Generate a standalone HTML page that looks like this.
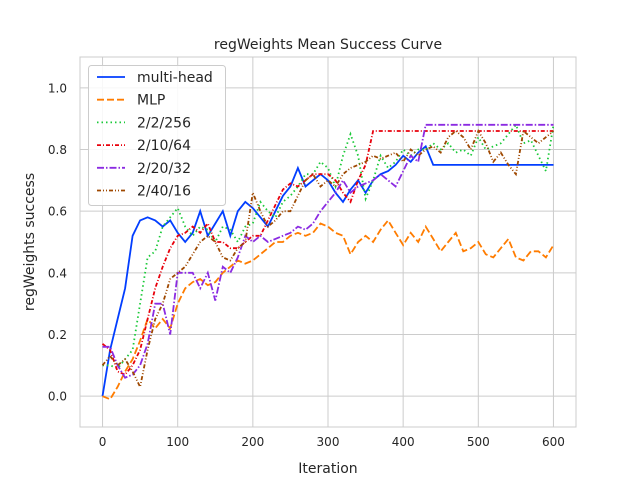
<!DOCTYPE html>
<html><head><meta charset="utf-8"><style>
body{margin:0;background:#fff;}
svg text{font-family:"DejaVu Sans","Liberation Sans",sans-serif;fill:#262626;}
</style></head><body>
<svg id="chart" width="640" height="480" xmlns="http://www.w3.org/2000/svg">
<rect x="80" y="57" width="496" height="370" fill="#fff" stroke="#ccc" stroke-width="1"/>
<g id="grid"></g>
<g id="series"></g>
<g id="ticks"></g>
<text x="328" y="49" text-anchor="middle" font-size="14">regWeights Mean Success Curve</text>
<text x="328" y="473" text-anchor="middle" font-size="14">Iteration</text>
<text x="34" y="242" text-anchor="middle" font-size="14" transform="rotate(-90 34 242)">regWeights success</text>
<g id="legend">
<rect x="88.5" y="65.5" width="137" height="140" rx="3" fill="#fff" fill-opacity="0.85" stroke="#ccc"/>
</g>
</svg>
<script>
const iters=[0,10,20,30,40,50,60,70,80,90,100,110,120,130,140,150,160,170,180,190,200,210,220,230,240,250,260,270,280,290,300,310,320,330,340,350,360,370,380,390,400,410,420,430,440,450,460,470,480,490,500,510,520,530,540,550,560,570,580,590,600];
const multiHead=[0.0,0.15,0.25,0.35,0.52,0.57,0.58,0.57,0.55,0.57,0.53,0.50,0.53,0.60,0.52,0.56,0.60,0.52,0.60,0.63,0.61,0.58,0.55,0.60,0.65,0.68,0.74,0.68,0.70,0.72,0.70,0.66,0.63,0.67,0.70,0.66,0.70,0.72,0.73,0.75,0.78,0.76,0.79,0.81,0.75,0.75,0.75,0.75,0.75,0.75,0.75,0.75,0.75,0.75,0.75,0.75,0.75,0.75,0.75,0.75,0.75];
const mlp=[0.0,-0.01,0.03,0.08,0.12,0.18,0.25,0.22,0.25,0.22,0.30,0.35,0.37,0.38,0.36,0.37,0.40,0.42,0.44,0.43,0.44,0.46,0.48,0.50,0.50,0.52,0.53,0.52,0.53,0.56,0.55,0.53,0.52,0.46,0.50,0.52,0.50,0.54,0.57,0.53,0.49,0.53,0.50,0.55,0.51,0.47,0.50,0.53,0.47,0.48,0.50,0.46,0.45,0.48,0.51,0.45,0.44,0.47,0.47,0.45,0.49];
const s2_2_256=[0.10,0.10,0.09,0.12,0.15,0.30,0.45,0.47,0.55,0.58,0.61,0.55,0.52,0.55,0.54,0.50,0.55,0.54,0.50,0.55,0.56,0.63,0.60,0.58,0.63,0.65,0.68,0.72,0.72,0.76,0.74,0.68,0.78,0.85,0.78,0.64,0.70,0.78,0.74,0.76,0.80,0.78,0.80,0.80,0.82,0.80,0.82,0.79,0.80,0.78,0.84,0.80,0.81,0.82,0.85,0.88,0.82,0.83,0.78,0.73,0.88];
const s2_10_64=[0.17,0.15,0.08,0.07,0.10,0.15,0.25,0.35,0.42,0.48,0.52,0.53,0.55,0.53,0.56,0.50,0.50,0.48,0.48,0.50,0.52,0.52,0.57,0.62,0.67,0.69,0.68,0.70,0.72,0.72,0.72,0.70,0.66,0.63,0.70,0.75,0.86,0.86,0.86,0.86,0.86,0.86,0.86,0.86,0.86,0.86,0.86,0.86,0.86,0.86,0.86,0.86,0.86,0.86,0.86,0.86,0.86,0.86,0.86,0.86,0.86];
const s2_20_32=[0.16,0.16,0.10,0.06,0.07,0.10,0.17,0.30,0.30,0.20,0.40,0.40,0.40,0.35,0.40,0.31,0.42,0.40,0.45,0.52,0.50,0.52,0.50,0.51,0.52,0.53,0.55,0.54,0.56,0.60,0.63,0.66,0.70,0.66,0.68,0.69,0.70,0.72,0.70,0.68,0.73,0.78,0.76,0.88,0.88,0.88,0.88,0.88,0.88,0.88,0.88,0.88,0.88,0.88,0.88,0.88,0.88,0.88,0.88,0.88,0.88];
const s2_40_16=[0.10,0.13,0.10,0.12,0.08,0.03,0.15,0.25,0.30,0.38,0.40,0.42,0.46,0.50,0.52,0.50,0.45,0.44,0.48,0.50,0.66,0.60,0.55,0.57,0.60,0.60,0.65,0.70,0.72,0.68,0.70,0.68,0.72,0.74,0.75,0.76,0.78,0.77,0.78,0.79,0.76,0.80,0.78,0.80,0.81,0.79,0.84,0.86,0.84,0.80,0.86,0.82,0.76,0.79,0.75,0.72,0.86,0.84,0.82,0.84,0.86];
const seriesNames=["multi-head","MLP","2/2/256","2/10/64","2/20/32","2/40/16"];
const xTicks=[0,100,200,300,400,500,600];
const yTicks=[0.0,0.2,0.4,0.6,0.8,1.0];

const data=[multiHead,mlp,s2_2_256,s2_10_64,s2_20_32,s2_40_16];
const colors=["#023eff","#ff7c00","#1ac938","#e8000b","#8b2be2","#9f4800"];
const dashes=["","7,3","1.5,3","4,2,1,2","7,2,1.5,2","4,2,1,2,1,2"];
const X=v=>80+(v+30)/660*496;
const Y=v=>427-(v+0.1)/1.2*370;
const NS="http://www.w3.org/2000/svg";
const grid=document.getElementById('grid'),ticks=document.getElementById('ticks'),ser=document.getElementById('series'),leg=document.getElementById('legend');
function mk(tag,attrs,parent){const e=document.createElementNS(NS,tag);for(const k in attrs)e.setAttribute(k,attrs[k]);parent.appendChild(e);return e;}
xTicks.forEach(t=>{
  const l=mk('line',{x1:X(t),x2:X(t),y1:57,y2:427,stroke:'#ccc','stroke-width':1},grid);
  
  
  const tx=mk('text',{x:X(t),y:446,'text-anchor':'middle','font-size':12},ticks);
  tx.textContent=t;
  
  
});
yTicks.forEach(t=>{
  const l=mk('line',{x1:80,x2:576,y1:Y(t),y2:Y(t),stroke:'#ccc','stroke-width':1},grid);
  
  
  const tx=mk('text',{x:67,y:Y(t)+4.5,'text-anchor':'end','font-size':12},ticks);
  tx.textContent=t.toFixed(1);
  
  
});
data.forEach((d,i)=>{
  const pts=d.map((v,j)=>X(iters[j]).toFixed(1)+','+Y(v).toFixed(1)).join(' ');
  const p=mk('polyline',{points:pts,fill:'none',stroke:colors[i],'stroke-width':1.8},ser);
  if(dashes[i])p.setAttribute('stroke-dasharray',dashes[i]);
  
  
  const y=77+i*22.7;
  const ll=mk('line',{x1:97,x2:125,y1:y,y2:y,stroke:colors[i],'stroke-width':1.8},leg);
  if(dashes[i])ll.setAttribute('stroke-dasharray',dashes[i]);
  
  
  const tx=mk('text',{x:137,y:y+5,'font-size':14},leg);
  tx.textContent=seriesNames[i];
  
  
});
</script>
</body></html>
